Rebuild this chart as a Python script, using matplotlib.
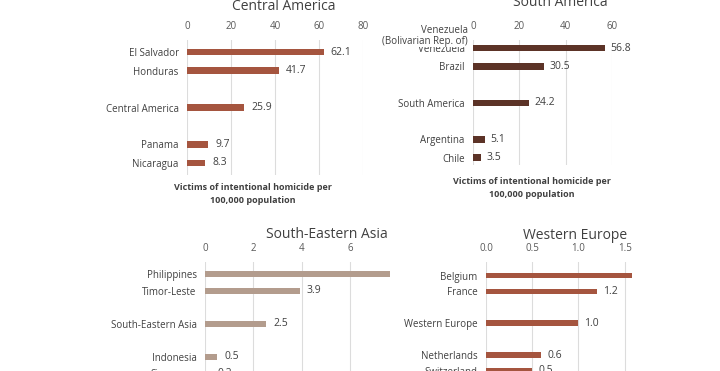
import numpy as np
import matplotlib
matplotlib.use('Agg')
import matplotlib.pyplot as plt

plt.rcParams['font.family'] = ['Open Sans', 'DejaVu Sans']

W, H = 720, 371

# ---------------------------------------------------------------
# data
# ---------------------------------------------------------------
ca_names = ['El Salvador', 'Honduras', 'Central America', 'Panama', 'Nicaragua']
ca_vals = [62.1, 41.7, 25.9, 9.7, 8.3]

sa_names = ['Venezuela', 'Brazil', 'South America', 'Argentina', 'Chile']
sa_vals = [56.8, 30.5, 24.2, 5.1, 3.5]

sea_names = ['Philippines', 'Timor-Leste', 'South-Eastern Asia', 'Indonesia', 'Singapore']
sea_vals = [8.8, 3.9, 2.5, 0.5, 0.2]

we_names = ['Belgium', 'France', 'Western Europe', 'Netherlands', 'Switzerland']
we_vals = [1.6, 1.2, 1.0, 0.6, 0.5]

# row slots: two highest, region, two lowest
slots = [0, 1, 3, 5, 6]

fig = plt.figure(figsize=(W / 100, H / 100), dpi=100)
fig.patch.set_facecolor('white')


def panel(x0, x1, y0, y1, names, vals, xmax, ticks, tickfmt, color,
          ylim, title, title_xy, xlabel=None, xlabel_xy=None):
    ax = fig.add_axes([x0 / W, 1 - y1 / H, (x1 - x0) / W, (y1 - y0) / H])
    ax.barh(slots, vals, height=0.36, color=color)
    ax.set_xlim(0, xmax)
    ax.set_ylim(*ylim)
    ax.set_yticks(slots)
    ax.set_yticklabels(names, fontsize=7, color='#404040')
    ax.set_xticks(ticks)
    ax.set_xticklabels([tickfmt.format(t) for t in ticks], fontsize=7, color='#595959')
    ax.xaxis.tick_top()
    ax.tick_params(length=0, pad=6)
    ax.tick_params(axis='y', pad=6)
    for s in ax.spines.values():
        s.set_visible(False)
    ax.grid(axis='x', color='#dcdcdc', linewidth=0.8)
    ax.set_axisbelow(True)
    for yy, v in zip(slots, vals):
        if v < xmax * 0.97:
            ax.text(v + xmax * 0.04, yy, f'{v:.1f}', va='center', ha='left',
                    fontsize=7.5, color='#404040')
    fig.text(title_xy[0] / W, 1 - title_xy[1] / H, title, ha='center', va='center',
             fontsize=10, color='#404040')
    if xlabel:
        fig.text(xlabel_xy[0] / W, 1 - xlabel_xy[1] / H, xlabel, ha='center', va='center',
                 fontsize=6.5, fontweight='bold', color='#404040', linespacing=1.6)
    return ax


panel(187, 363, 40, 175, ca_names, ca_vals, 80, [0, 20, 40, 60, 80], '{:.0f}',
      '#a5553f', (6.65, -0.65), 'Central America', (284, 7),
      'Victims of intentional homicide per\n100,000 population', (253, 194))

ax_sa = panel(473, 612, 40, 165, sa_names, sa_vals, 60, [0, 20, 40, 60], '{:.0f}',
              '#5c3327', (6.4, -0.45), 'South America', (560, 2),
              'Victims of intentional homicide per\n100,000 population', (532, 188))
fig.text(468 / W, 1 - 36 / H, 'Venezuela\n(Bolivarian Rep. of)', ha='right', va='center',
         fontsize=7, color='#404040', linespacing=0.95,
         bbox=dict(facecolor='white', edgecolor='none', pad=0))

panel(205, 390, 262, 390, sea_names, sea_vals, 7.63, [0, 2, 4, 6], '{:.0f}',
      '#b39c8d', (7.0, -0.75), 'South-Eastern Asia', (327, 234))

panel(486, 632, 262, 390, we_names, we_vals, 1.58, [0.0, 0.5, 1.0, 1.5], '{:.1f}',
      '#a5553f', (7.2, -0.85), 'Western Europe', (575, 235))

fig.savefig('out.png', dpi=100, facecolor='white')
